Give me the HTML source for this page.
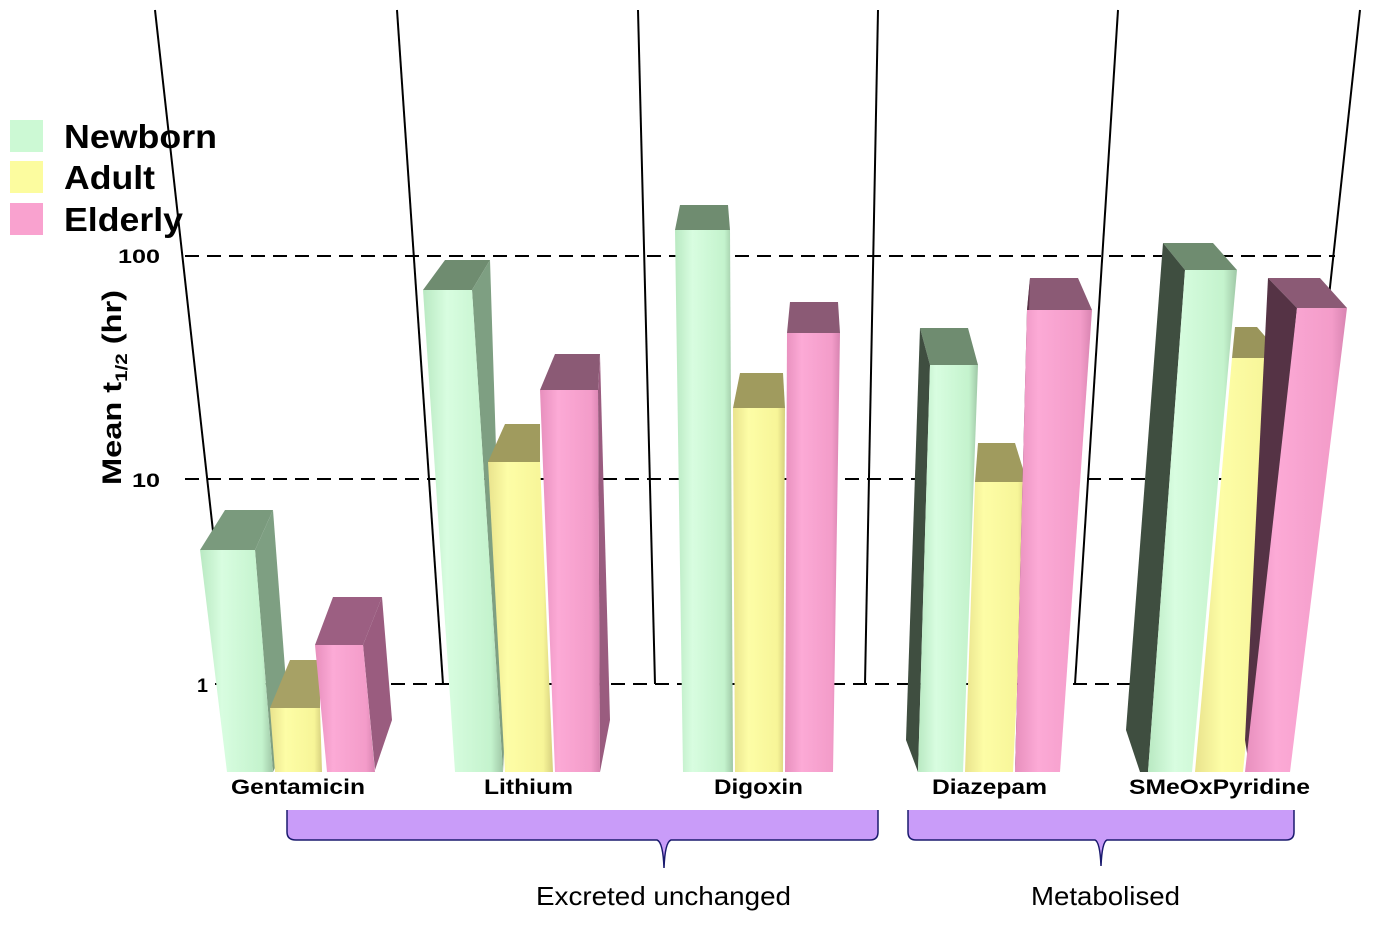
<!DOCTYPE html>
<html><head><style>body{margin:0;background:#fff}</style></head><body>
<svg width="1378" height="928" xmlns="http://www.w3.org/2000/svg" font-family="Liberation Sans, sans-serif">
<defs>
<linearGradient id="gN" x1="0" x2="1"><stop offset="0" stop-color="#b9e9c2"/><stop offset="0.3" stop-color="#d8fde0"/><stop offset="0.85" stop-color="#c4f3cd"/><stop offset="1" stop-color="#9fc7a6"/></linearGradient>
<linearGradient id="gA" x1="0" x2="1"><stop offset="0" stop-color="#e9e38d"/><stop offset="0.3" stop-color="#fdfda6"/><stop offset="0.85" stop-color="#f7f598"/><stop offset="1" stop-color="#d6d07e"/></linearGradient>
<linearGradient id="gE" x1="0" x2="1"><stop offset="0" stop-color="#e78fbd"/><stop offset="0.3" stop-color="#fcaad6"/><stop offset="0.85" stop-color="#f39cc9"/><stop offset="1" stop-color="#d884b1"/></linearGradient>
</defs>
<g stroke="#000" stroke-width="2" fill="none">
<line x1="155" y1="10" x2="230" y2="684"/><line x1="397" y1="10" x2="443" y2="684"/>
<line x1="638" y1="10" x2="655" y2="684"/><line x1="878" y1="10" x2="865" y2="684"/>
<line x1="1118" y1="10" x2="1075" y2="684"/><line x1="1360" y1="10" x2="1287" y2="684"/>
</g>
<g stroke="#000" stroke-width="2" stroke-dasharray="14,8">
<line x1="185" y1="256" x2="1335" y2="256"/><line x1="185" y1="479" x2="1300" y2="479"/><line x1="215" y1="684" x2="1290" y2="684"/>
</g>
<g font-weight="bold" font-size="19" lengthAdjust="spacingAndGlyphs">
<text x="118" y="263" textLength="42" lengthAdjust="spacingAndGlyphs">100</text><text x="132" y="487" textLength="28" lengthAdjust="spacingAndGlyphs">10</text><text x="197" y="692" textLength="11" lengthAdjust="spacingAndGlyphs">1</text>
</g>
<text transform="translate(121,485) rotate(-90)" font-weight="bold" font-size="27" textLength="195" lengthAdjust="spacingAndGlyphs">Mean t<tspan font-size="17" dy="6">1/2</tspan><tspan dy="-6"> (hr)</tspan></text>
<rect x="10" y="120" width="33" height="32" fill="#ccf9d4"/><rect x="10" y="161" width="33" height="32" fill="#fcfc9f"/><rect x="10" y="203" width="33" height="32" fill="#f9a2cf"/>
<g font-weight="bold" font-size="33"><text x="64" y="148" textLength="153" lengthAdjust="spacingAndGlyphs">Newborn</text><text x="64" y="189" textLength="91" lengthAdjust="spacingAndGlyphs">Adult</text><text x="64" y="231" textLength="119" lengthAdjust="spacingAndGlyphs">Elderly</text></g>

<!-- Gentamicin -->
<polygon points="200,550 225,510 273,510 255,550" fill="#7a9a7d"/>
<polygon points="255,550 273,510 290,735 273,772" fill="#7e9f82"/>
<polygon points="200,550 255,550 273,772 227,772" fill="url(#gN)"/>
<polygon points="270,708 290,660 320,660 320,708" fill="#a7a165"/>
<polygon points="270,708 320,708 322,772 275,772" fill="url(#gA)"/>
<polygon points="315,645 333,597 382,597 363,645" fill="#9c5f82"/>
<polygon points="363,645 382,597 392,720 375,770" fill="#9a5c7f"/>
<polygon points="315,645 363,645 375,772 327,772" fill="url(#gE)"/>
<!-- Lithium -->
<polygon points="423,290 445,260 490,260 472,290" fill="#6f8c70"/>
<polygon points="472,290 490,260 505,730 503,772" fill="#7e9f82"/>
<polygon points="423,290 472,290 503,772 455,772" fill="url(#gN)"/>
<polygon points="488,462 505,424 540,424 540,462" fill="#a09b5e"/>
<polygon points="488,462 540,462 553,772 505,772" fill="url(#gA)"/>
<polygon points="540,390 555,354 600,354 598,390" fill="#8b5a75"/>
<polygon points="598,390 600,356 610,720 600,772" fill="#9a5c7f"/>
<polygon points="540,390 598,390 600,772 555,772" fill="url(#gE)"/>
<!-- Digoxin -->
<polygon points="675,230 680,205 728,205 730,230" fill="#6f8c70"/>
<polygon points="675,230 730,230 733,772 683,772" fill="url(#gN)"/>
<polygon points="733,408 740,373 783,373 785,408" fill="#a09b5e"/>
<polygon points="733,408 785,408 783,772 735,772" fill="url(#gA)"/>
<polygon points="787,333 790,302 838,302 840,333" fill="#8b5a75"/>
<polygon points="787,333 840,333 833,772 785,772" fill="url(#gE)"/>
<!-- Diazepam -->
<polygon points="930,365 920,328 968,328 978,365" fill="#6f8c70"/>
<polygon points="930,365 920,328 906,740 918,772" fill="#3f4e40"/>
<polygon points="930,365 978,365 963,772 918,772" fill="url(#gN)"/>
<polygon points="975,482 978,443 1015,443 1027,482" fill="#a09b5e"/>
<polygon points="975,482 1027,482 1013,772 965,772" fill="url(#gA)"/>
<polygon points="1027,310 1030,278 1078,278 1092,310" fill="#8b5a75"/>
<polygon points="1027,310 1030,278 1017,740 1015,772" fill="#5a3348"/>
<polygon points="1027,310 1092,310 1060,772 1015,772" fill="url(#gE)"/>
<!-- SMeOxPyridine -->
<polygon points="1185,270 1163,243 1213,243 1237,270" fill="#6f8c70"/>
<polygon points="1185,270 1163,243 1126,730 1140,772 1148,772" fill="#3f4e40"/>
<polygon points="1185,270 1237,270 1192,772 1148,772" fill="url(#gN)"/>
<polygon points="1232,358 1235,327 1257,327 1284,358" fill="#9a955b"/>
<polygon points="1232,358 1284,358 1243,772 1195,772" fill="url(#gA)"/>
<polygon points="1297,308 1268,278 1320,278 1347,308" fill="#8b5a75"/>
<polygon points="1297,308 1268,278 1245,740 1250,772" fill="#553345"/>
<polygon points="1297,308 1347,308 1290,772 1245,772" fill="url(#gE)"/>

<g font-weight="bold" font-size="21">
<text x="231" y="794" textLength="134" lengthAdjust="spacingAndGlyphs">Gentamicin</text>
<text x="484" y="794" textLength="89" lengthAdjust="spacingAndGlyphs">Lithium</text>
<text x="714" y="794" textLength="89" lengthAdjust="spacingAndGlyphs">Digoxin</text>
<text x="932" y="794" textLength="115" lengthAdjust="spacingAndGlyphs">Diazepam</text>
<text x="1129" y="794" textLength="181" lengthAdjust="spacingAndGlyphs">SMeOxPyridine</text>
</g>
<path d="M287,810 L287,832 Q287,840 296,840 L657,840 Q663,842 664,868 Q665,842 671,840 L870,840 Q878,840 878,832 L878,810 Z" fill="#c99cf9" stroke="none"/>
<path d="M287,810 L287,832 Q287,840 296,840 L657,840 Q663,842 664,868 Q665,842 671,840 L870,840 Q878,840 878,832 L878,810" fill="none" stroke="#1a1a6e" stroke-width="1.5"/>
<path d="M908,810 L908,832 Q908,840 916,840 L1095,840 Q1100,842 1101,866 Q1102,842 1107,840 L1286,840 Q1294,840 1294,832 L1294,810 Z" fill="#c99cf9"/>
<path d="M908,810 L908,832 Q908,840 916,840 L1095,840 Q1100,842 1101,866 Q1102,842 1107,840 L1286,840 Q1294,840 1294,832 L1294,810" fill="none" stroke="#1a1a6e" stroke-width="1.5"/>
<g font-size="26"><text x="536" y="905" textLength="255" lengthAdjust="spacingAndGlyphs">Excreted unchanged</text><text x="1031" y="905" textLength="149" lengthAdjust="spacingAndGlyphs">Metabolised</text></g>
</svg>
</body></html>
